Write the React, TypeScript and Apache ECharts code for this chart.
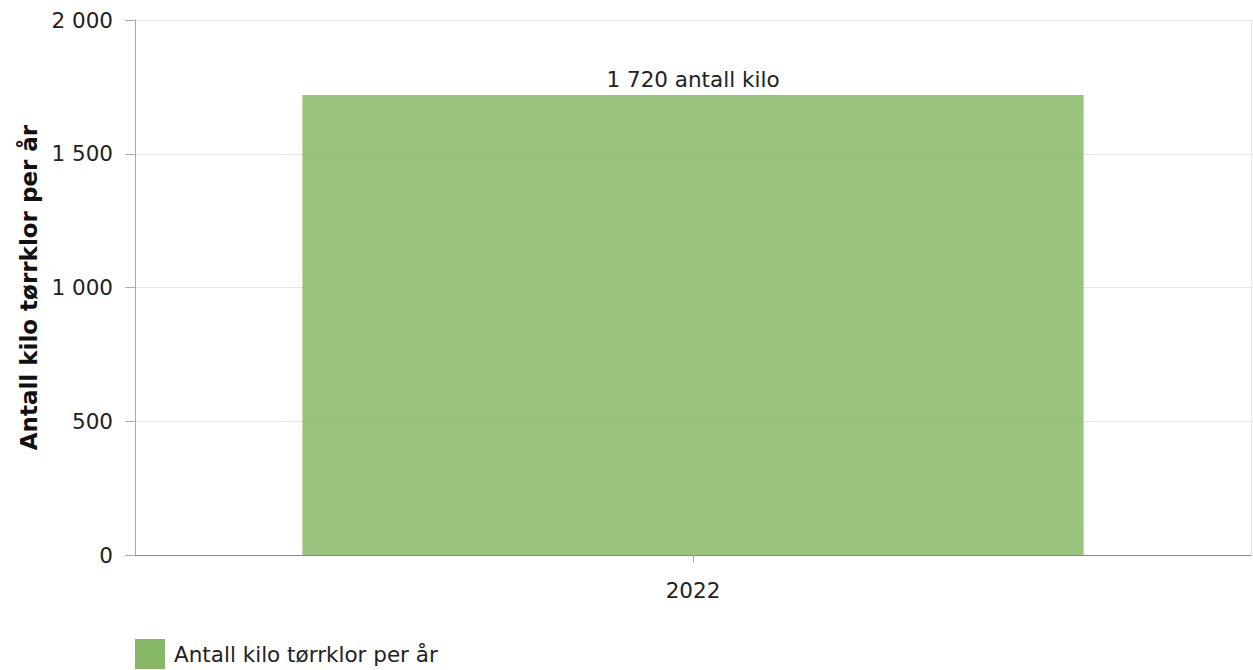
import React, { useEffect, useRef } from "react";
import * as echarts from "echarts";

const categories = ["2022"];
const seriesName = "Antall kilo tørrklor per år";
const values = [1720];
const yAxisName = "Antall kilo tørrklor per år";

const fmt = (v: number) => String(v).replace(/\B(?=(\d{3})+(?!\d))/g, " ");

export default function App() {
  const ref = useRef<HTMLDivElement>(null);
  useEffect(() => {
    const chart = echarts.init(ref.current!, null, { renderer: "svg" });
    const font = "Verdana, 'DejaVu Sans', sans-serif";
    const fs = 21.5;
    chart.setOption({
      animation: false,
      textStyle: { fontFamily: font },
      grid: { left: 135, right: 2, top: 20, bottom: 115, containLabel: false },
      legend: {
        left: 130,
        top: 634,
        itemWidth: 30,
        itemHeight: 30,
        itemGap: 10,
        textStyle: { fontSize: fs, color: "#222", fontFamily: font, padding: [0, 0, 0, 4] },
        data: [{ name: seriesName, icon: "rect", itemStyle: { color: "#87b865", opacity: 1 } }],
      },
      xAxis: {
        type: "category",
        data: categories,
        axisLine: { lineStyle: { color: "#888", width: 1 } },
        axisTick: { show: true, alignWithLabel: true, length: 8, lineStyle: { color: "#aaa" } },
        axisLabel: { fontSize: fs, color: "#222", margin: 24, fontFamily: font },
        splitLine: { show: true, lineStyle: { color: "#e6e6e6" } },
      },
      yAxis: {
        type: "value",
        min: 0,
        max: 2000,
        interval: 500,
        name: yAxisName,
        nameLocation: "middle",
        nameGap: 93,
        nameTextStyle: { fontSize: 23, fontWeight: "bold", color: "#111", fontFamily: font },
        axisLine: { show: true, lineStyle: { color: "#aaa" } },
        axisTick: { show: true, length: 10, lineStyle: { color: "#aaa" } },
        axisLabel: { fontSize: fs, color: "#222", margin: 22, formatter: (v: number) => fmt(v), fontFamily: font },
        splitLine: { lineStyle: { color: "#e6e6e6" } },
      },
      series: [
        {
          name: seriesName,
          type: "bar",
          data: values,
          barWidth: "70%",
          itemStyle: { color: "rgba(135,184,101,0.84)" },
          label: {
            show: true,
            position: "top",
            distance: 4,
            fontSize: fs,
            color: "#222",
            fontFamily: font,
            formatter: (p: any) => fmt(p.value) + " antall kilo",
          },
        },
      ],
    });
    return () => chart.dispose();
  }, []);
  return (
    <div
      ref={ref}
      style={{ position: "fixed", left: 0, top: 0, width: 1253, height: 670, background: "#fff" }}
    />
  );
}
